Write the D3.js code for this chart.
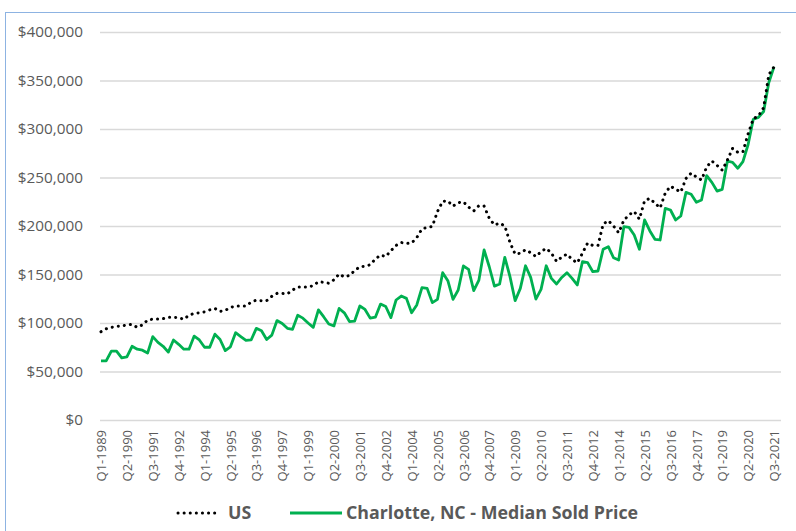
<!DOCTYPE html>
<html>
<head>
<meta charset="utf-8">
<script src="https://cdn.jsdelivr.net/npm/d3@7"></script>
<style>
  body { margin: 0; background: #fff; }
  svg { display: block; }
</style>
</head>
<body>
<div id="chart"></div>
<script>
// quarterly median prices, Q1-1989 .. Q3-2021
const firstYear = 1989;
const quarterCount = 131;

const usPrice = [
  91000, 94000, 95500, 96500, 97000, 98000, 98500, 95500, 98000, 103000,
  104000, 104000, 104500, 105800, 105800, 105500, 103800, 108000, 110000, 110500,
  111500, 113500, 115000, 112000, 113000, 116000, 117500, 117500, 117500, 121500,
  123500, 123000, 123000, 127500, 130500, 130500, 130000, 134000, 137000, 137000,
  137000, 138500, 142500, 142000, 141000, 144500, 150500, 147500, 149000, 154000,
  158000, 158500, 160000, 166000, 170000, 168500, 174500, 180000, 183000, 182000,
  182500, 188000, 197000, 198500, 199500, 215000, 225500, 225800, 220500, 224000,
  225000, 219500, 215500, 221000, 220500, 208000, 201000, 203000, 200000, 183000,
  171000, 172000, 175500, 172500, 168500, 173500, 177000, 172000, 163500, 168000,
  171000, 165500, 162000, 172000, 182500, 180000, 180000, 202000, 205500, 200000,
  193000, 206000, 211500, 215000, 207000, 226000, 228500, 223500, 218500, 234000,
  241000, 238000, 235000, 249000, 254500, 250500, 247500, 261000, 267000, 262500,
  257500, 268000, 280000, 276000, 276500, 295000, 310500, 313500, 322000, 356000,
  364000
];

const charlottePrice = [
  61000, 61000, 71000, 71000, 64000, 65000, 76000, 73000, 72000, 69000,
  86000, 80000, 76000, 70000, 82500, 78000, 73000, 73000, 86500, 82500,
  75000, 75000, 88500, 83000, 71500, 75500, 90000, 86000, 82000, 82500,
  94500, 92000, 83000, 87500, 102500, 99500, 94500, 93500, 108000, 105000,
  100000, 95500, 113500, 106500, 99000, 97000, 115000, 110500, 101500, 102000,
  117500, 114000, 105000, 106000, 119500, 117000, 105500, 123700, 127800, 125400,
  110600, 118600, 136400, 135700, 121000, 124400, 151900, 143600, 124400, 134000,
  158800, 155300, 133300, 144300, 175300, 158000, 138000, 140200, 167700, 147800,
  123000, 135700, 159000, 147000, 124700, 134700, 159000, 146000, 140200, 147000,
  151900, 146000, 139200, 163200, 162200, 152900, 153600, 176000, 178700, 167300,
  165000, 199300, 198600, 190700, 176000, 206200, 195200, 186300, 185600, 218200,
  216500, 206200, 210300, 234700, 232700, 224400, 226800, 251900, 245000, 236000,
  237800, 267000, 265600, 259500, 266300, 284000, 310000, 312000, 318000, 348000,
  364000
];

const yTicks = [0, 50000, 100000, 150000, 200000, 250000, 300000, 350000, 400000];
const seriesNames = ["US", "Charlotte, NC - Median Sold Price"];

const quarters = [];
for (let i = 0; i < quarterCount; i++) {
  quarters.push("Q" + (i % 4 + 1) + "-" + (firstYear + Math.floor(i / 4)));
}

const width = 796, height = 531;
const plotLeft = 100, plotRight = 781, plotTop = 32, plotBottom = 420;

const svg = d3.select("#chart").append("svg")
  .attr("width", width)
  .attr("height", height);

// chart frame (runs past the right/bottom of the window)
svg.append("rect")
  .attr("x", 5.5).attr("y", 12.5)
  .attr("width", 820).attr("height", 540)
  .attr("fill", "none")
  .attr("stroke", "#8db3e2")
  .attr("stroke-width", 1);

const x = d3.scalePoint()
  .domain(quarters)
  .range([101, 774]);

const y = d3.scaleLinear()
  .domain([0, 400000])
  .range([plotBottom, plotTop]);

// y axis + gridlines
const yAxis = svg.append("g")
  .attr("transform", "translate(" + plotLeft + ",0)")
  .call(d3.axisLeft(y)
    .tickValues(yTicks)
    .tickSize(-(plotRight - plotLeft))
    .tickPadding(17)
    .tickFormat(d => "$" + d3.format(",")(d)));
yAxis.select(".domain").remove();
yAxis.selectAll("line")
  .attr("stroke", "#d9d9d9")
  .attr("stroke-width", 1.3);
yAxis.selectAll("text")
  .attr("fill", "#595959")
  .style("font-family", "'Open Sans', sans-serif")
  .style("font-size", "15.3px");

// x axis labels, every 5th quarter, rotated
const xAxis = svg.append("g")
  .attr("transform", "translate(0," + plotBottom + ")")
  .call(d3.axisBottom(x)
    .tickValues(quarters.filter((q, i) => i % 5 === 0))
    .tickSize(0));
xAxis.select(".domain").remove();
xAxis.selectAll("text")
  .attr("transform", "rotate(-90)")
  .attr("x", -10)
  .attr("y", 0)
  .attr("dy", "0.36em")
  .attr("text-anchor", "end")
  .attr("fill", "#595959")
  .style("font-family", "'Open Sans', sans-serif")
  .style("font-size", "13px");

const line = d3.line()
  .x((d, i) => x(quarters[i]))
  .y(d => y(d));

svg.append("path")
  .datum(charlottePrice)
  .attr("d", line)
  .attr("fill", "none")
  .attr("stroke", "#00b050")
  .attr("stroke-width", 2.8)
  .attr("stroke-linejoin", "round");

svg.append("path")
  .datum(usPrice)
  .attr("d", line)
  .attr("fill", "none")
  .attr("stroke", "#000")
  .attr("stroke-width", 3)
  .attr("stroke-linecap", "round")
  .attr("stroke-dasharray", "0.1 6");

// legend
const legendY = 513;
const legend = svg.append("g");

legend.append("line")
  .attr("x1", 178).attr("x2", 220)
  .attr("y1", legendY).attr("y2", legendY)
  .attr("stroke", "#000")
  .attr("stroke-width", 3)
  .attr("stroke-linecap", "round")
  .attr("stroke-dasharray", "0.1 6");
legend.append("text")
  .attr("x", 228).attr("y", legendY)
  .attr("dy", "0.35em")
  .text(seriesNames[0]);

legend.append("line")
  .attr("x1", 290).attr("x2", 342)
  .attr("y1", legendY).attr("y2", legendY)
  .attr("stroke", "#00b050")
  .attr("stroke-width", 2.8);
legend.append("text")
  .attr("x", 346).attr("y", legendY)
  .attr("dy", "0.35em")
  .text(seriesNames[1]);

legend.selectAll("text")
  .attr("fill", "#595959")
  .style("font-family", "'Open Sans', sans-serif")
  .style("font-weight", "bold")
  .style("font-size", "17.8px");
</script>
</body>
</html>
